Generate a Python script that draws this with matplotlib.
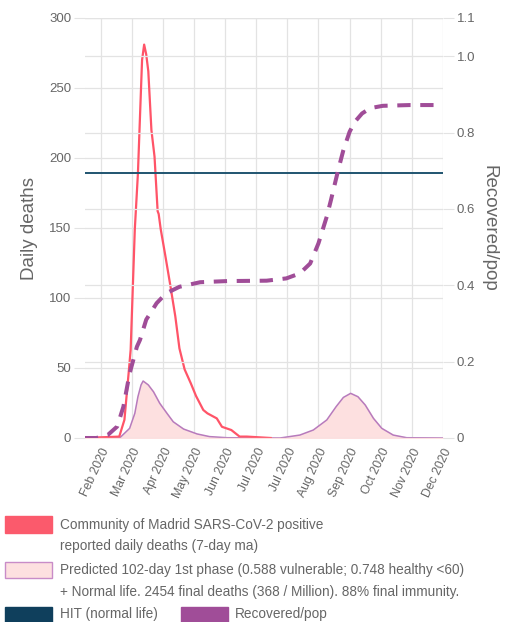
import numpy as np
import pandas as pd
import matplotlib
matplotlib.use("Agg")
import matplotlib.pyplot as plt
import matplotlib.dates as mdates
from matplotlib.patches import Rectangle

plt.rcParams['font.family'] = ['Liberation Sans', 'DejaVu Sans']

# reported deaths, Community of Madrid (7-day ma)
madrid_dates = ["2020-01-18", "2020-02-20", "2020-02-25", "2020-02-29", "2020-03-02",
                "2020-03-06", "2020-03-09", "2020-03-12", "2020-03-13", "2020-03-15",
                "2020-03-17", "2020-03-19", "2020-03-22", "2020-03-25", "2020-03-28",
                "2020-03-29", "2020-03-31", "2020-04-04", "2020-04-09", "2020-04-14",
                "2020-04-18", "2020-04-23", "2020-04-29", "2020-05-04", "2020-05-11",
                "2020-05-15", "2020-05-24", "2020-05-29", "2020-06-07", "2020-06-15",
                "2020-06-22", "2020-07-15"]
madrid_deaths = [0, 1, 13, 46, 63, 149, 189, 250, 270, 281, 274, 262, 220, 201, 162,
                 160, 149, 132, 110, 87, 64, 49, 39, 30, 20, 17.6, 14, 8, 5.7, 1, 1, 0]

# predicted daily deaths
pred_dates = ["2020-01-18", "2020-02-21", "2020-03-01", "2020-03-06", "2020-03-09",
              "2020-03-12", "2020-03-14", "2020-03-19", "2020-03-24", "2020-03-30",
              "2020-04-06", "2020-04-12", "2020-04-22", "2020-05-05", "2020-05-17",
              "2020-06-03", "2020-07-24", "2020-08-12", "2020-08-25", "2020-09-07",
              "2020-09-16", "2020-09-23", "2020-09-30", "2020-10-07", "2020-10-14",
              "2020-10-22", "2020-10-30", "2020-11-10", "2020-11-23", "2020-12-28"]
pred_deaths = [0.3, 0.5, 6.9, 17.6, 29.5, 37.9, 40.7, 37.9, 33, 24.8, 17.6, 11.6, 6.4,
               2.9, 1, 0.2, 0, 2.1, 5.7, 12.9, 22.4, 29, 31.9, 29.5, 23.6, 14, 6.9,
               2.1, 0.2, 0]

# recovered / population
rec_dates = ["2020-01-18", "2020-01-29", "2020-02-09", "2020-02-18", "2020-02-24",
             "2020-03-01", "2020-03-08", "2020-03-11", "2020-03-17", "2020-03-21",
             "2020-03-27", "2020-04-02", "2020-04-06", "2020-04-18", "2020-05-08",
             "2020-06-03", "2020-07-11", "2020-07-30", "2020-08-12", "2020-08-22",
             "2020-08-30", "2020-09-07", "2020-09-11", "2020-09-18", "2020-09-23",
             "2020-09-29", "2020-10-04", "2020-10-11", "2020-10-19", "2020-10-31",
             "2020-11-26", "2020-12-19"]
rec_pop = [0, 0, 0.008, 0.03, 0.082, 0.169, 0.239, 0.257, 0.31, 0.327, 0.353, 0.37,
           0.38, 0.396, 0.408, 0.411, 0.412, 0.418, 0.431, 0.457, 0.51, 0.58, 0.623,
           0.702, 0.754, 0.802, 0.828, 0.85, 0.864, 0.870, 0.872, 0.872]

hit_value = 0.695
tick_dates = pd.date_range("2020-02-02", periods=12, freq="30D")

madrid_x = pd.to_datetime(madrid_dates)
pred_x = pd.to_datetime(pred_dates)
rec_x = pd.to_datetime(rec_dates)

fig = plt.figure(figsize=(5.25, 6.22), dpi=100)
ax = fig.add_axes([85 / 525, 184 / 622, 358 / 525, 420 / 622])
ax2 = ax.twinx()

grid_c = "#e3e3e3"
txt_c = "#666666"

ax.fill_between(pred_x, pred_deaths, color="#fde0e0", zorder=1)
ax.plot(pred_x, pred_deaths, color="#b77bbd", lw=1.1, zorder=2)
ax.plot(madrid_x, madrid_deaths, color="#ff5468", lw=1.6, zorder=4)

ax2.axhline(hit_value, color="#1f5470", lw=1.4, zorder=3)
ax2.plot(rec_x, rec_pop, color="#a04d98", lw=2.9, dashes=(3.3, 2.4), zorder=3)

ax.set_xlim(pd.Timestamp("2020-01-18"), pd.Timestamp("2020-12-28"))
ax.set_ylim(0, 300)
ax2.set_ylim(0, 1.1)
ax.set_yticks(np.arange(0, 301, 50))
ax2.set_yticks([0, 0.2, 0.4, 0.6, 0.8, 1.0, 1.1])
ax2.set_yticklabels(["0", "0.2", "0.4", "0.6", "0.8", "1.0", "1.1"])
ax.set_xticks(tick_dates)
ax.xaxis.set_major_formatter(mdates.DateFormatter("%b %Y"))
for lab in ax.get_xticklabels():
    lab.set_rotation(65)
    lab.set_ha("right")
    lab.set_rotation_mode("anchor")

ax.grid(True, color=grid_c, lw=0.9)
ax2.grid(True, axis="y", color=grid_c, lw=0.9)
ax.set_axisbelow(True)
ax2.set_zorder(ax.get_zorder() + 1)
ax2.patch.set_visible(False)
for a in (ax, ax2):
    for s in a.spines.values():
        s.set_visible(False)

ax.tick_params(axis="y", length=8, color=grid_c, labelcolor=txt_c, labelsize=9.5, pad=2)
ax2.tick_params(axis="y", length=8, color=grid_c, labelcolor=txt_c, labelsize=9.5, pad=2)
ax.tick_params(axis="x", length=0, labelcolor=txt_c, labelsize=8.8, pad=6)

ax.set_ylabel("Daily deaths", fontsize=13.5, color=txt_c, labelpad=8)
ax2.set_ylabel("Recovered/pop", fontsize=13.5, color=txt_c, rotation=270, labelpad=16)

# legend
fs = 9.8
def box(x, y, w, h, fc, ec):
    fig.patches.append(Rectangle((x / 525, 1 - (y + h) / 622), w / 525, h / 622,
                                 transform=fig.transFigure, facecolor=fc, edgecolor=ec, lw=1))

def label(x, y, s):
    fig.text(x / 525, 1 - y / 622, s, fontsize=fs, color=txt_c, va="center", ha="left")

box(5, 516, 47, 17, "#fb5a6c", "#fb5a6c")
label(60, 525, "Community of Madrid SARS-CoV-2 positive")
label(60, 546, "reported daily deaths (7-day ma)")
box(5, 562, 47, 16, "#fde0e0", "#c88cc8")
label(60, 570, "Predicted 102-day 1st phase (0.588 vulnerable; 0.748 healthy <60)")
label(60, 592, "+ Normal life. 2454 final deaths (368 / Million). 88% final immunity.")
box(5, 607, 47, 16, "#0f3f5c", "#0f3f5c")
label(60, 614, "HIT (normal life)")
box(181, 607, 47, 16, "#a04d98", "#a04d98")
label(235, 614, "Recovered/pop")

fig.savefig("out.png", dpi=100)
